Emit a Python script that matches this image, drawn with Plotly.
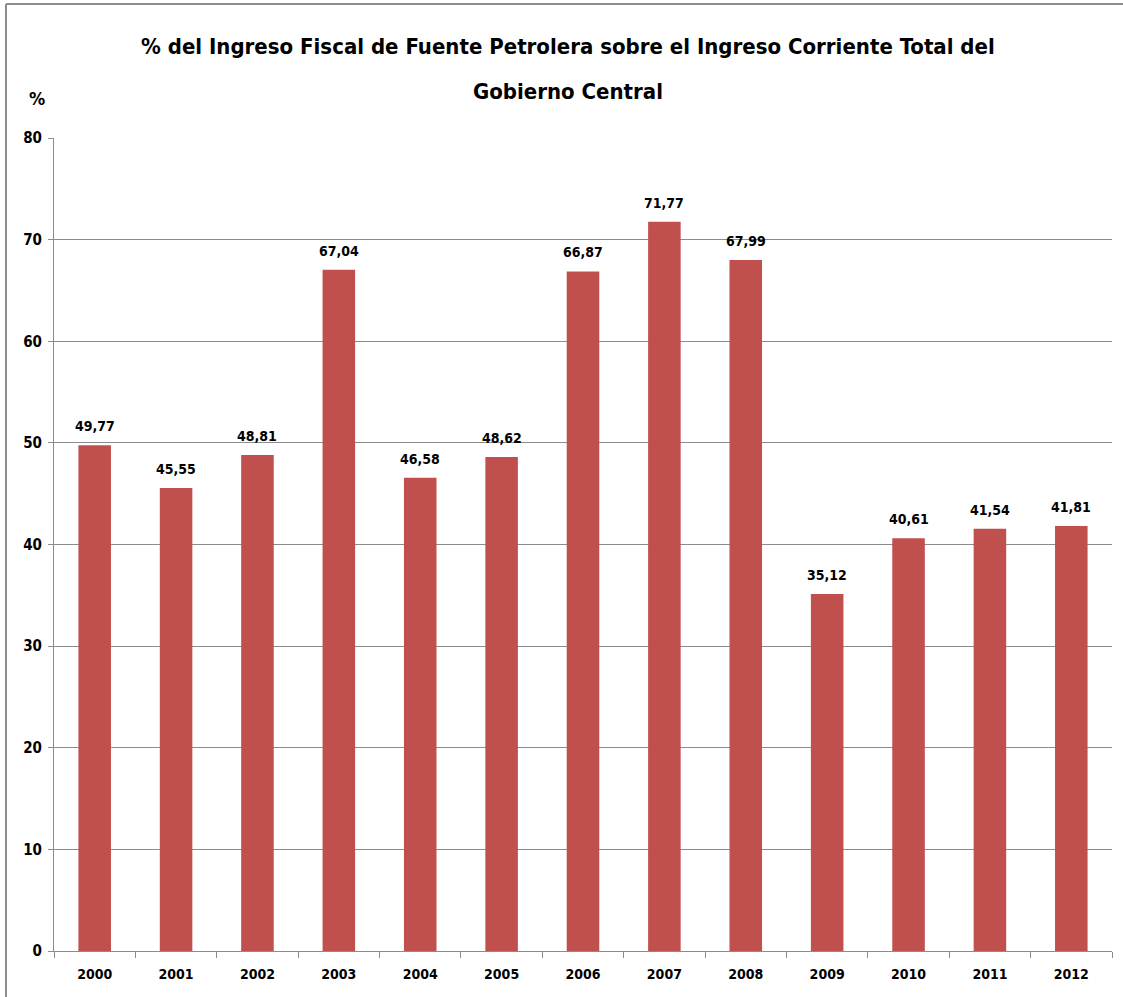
import plotly.graph_objects as go

years = ["2000", "2001", "2002", "2003", "2004", "2005", "2006", "2007", "2008", "2009", "2010", "2011", "2012"]
values = [49.77, 45.55, 48.81, 67.04, 46.58, 48.62, 66.87, 71.77, 67.99, 35.12, 40.61, 41.54, 41.81]
labels = [f"{v:.2f}".replace(".", ",") for v in values]
y_ticks = [0, 10, 20, 30, 40, 50, 60, 70, 80]
title_lines = ["% del Ingreso Fiscal de Fuente Petrolera sobre el Ingreso Corriente Total del",
               "Gobierno Central"]

FONT = "DejaVu Sans Condensed, Liberation Sans Narrow, Arial Narrow, sans-serif"

fig = go.Figure()
fig.add_trace(go.Bar(
    x=years, y=values, marker=dict(color="#C0504D", line=dict(width=0)),
    width=0.4, hoverinfo="x+y",
))

annotations = []
for i, (v, lab) in enumerate(zip(values, labels)):
    annotations.append(dict(
        x=i, y=v, xref="x", yref="y", text=f"<b>{lab}</b>", showarrow=False,
        yanchor="bottom", xanchor="center", yshift=9,
        font=dict(family=FONT, size=14, color="black"),
    ))

annotations.append(dict(text=f"<b>{title_lines[0]}</b>", xref="paper", yref="paper",
                        x=0.486, y=1.112, xanchor="center", yanchor="middle", showarrow=False,
                        font=dict(family=FONT, size=22, color="black")))
annotations.append(dict(text=f"<b>{title_lines[1]}</b>", xref="paper", yref="paper",
                        x=0.486, y=1.0566, xanchor="center", yanchor="middle", showarrow=False,
                        font=dict(family=FONT, size=22, color="black")))
annotations.append(dict(text="<b>%</b>", xref="paper", yref="paper", x=-0.016, y=1.049,
                        xanchor="center", yanchor="middle", showarrow=False,
                        font=dict(family=FONT, size=18, color="black")))

fig.update_layout(
    width=1123, height=997,
    paper_bgcolor="white", plot_bgcolor="white",
    margin=dict(l=54, r=11, t=138, b=46, autoexpand=False),
    showlegend=False,
    font=dict(family=FONT, color="black"),
    xaxis=dict(
        type="category", range=[-0.5, len(years) - 0.5],
        showgrid=False, showline=True, linecolor="#8c8c8c",
        ticks="outside", ticklen=6, tickcolor="#8c8c8c", tickson="boundaries",
        tickfont=dict(family=FONT, size=14, color="black", weight="bold"), automargin=False,
        ticklabelstandoff=10,
    ),
    yaxis=dict(
        range=[0, 80], tickvals=y_ticks, showgrid=True, gridcolor="#8c8c8c",
        showline=True, linecolor="#8c8c8c", ticks="outside", ticklen=5,
        tickcolor="#8c8c8c", zeroline=False, automargin=False,
        ticklabelstandoff=3,
        tickfont=dict(family=FONT, size=15, color="black", weight="bold"),
    ),
    shapes=[
        dict(type="line", xref="paper", yref="paper", x0=-0.0454, x1=1.02, y0=1.1648, y1=1.1648,
             line=dict(color="#8c8c8c", width=2)),
        dict(type="line", xref="paper", yref="paper", x0=-0.0454, x1=-0.0454, y0=1.1648, y1=-0.06,
             line=dict(color="#8c8c8c", width=2)),
    ],
    annotations=annotations,
)

fig.write_html("out.html", post_script="document.body.style.margin='0';",
               config={"displayModeBar": False})
